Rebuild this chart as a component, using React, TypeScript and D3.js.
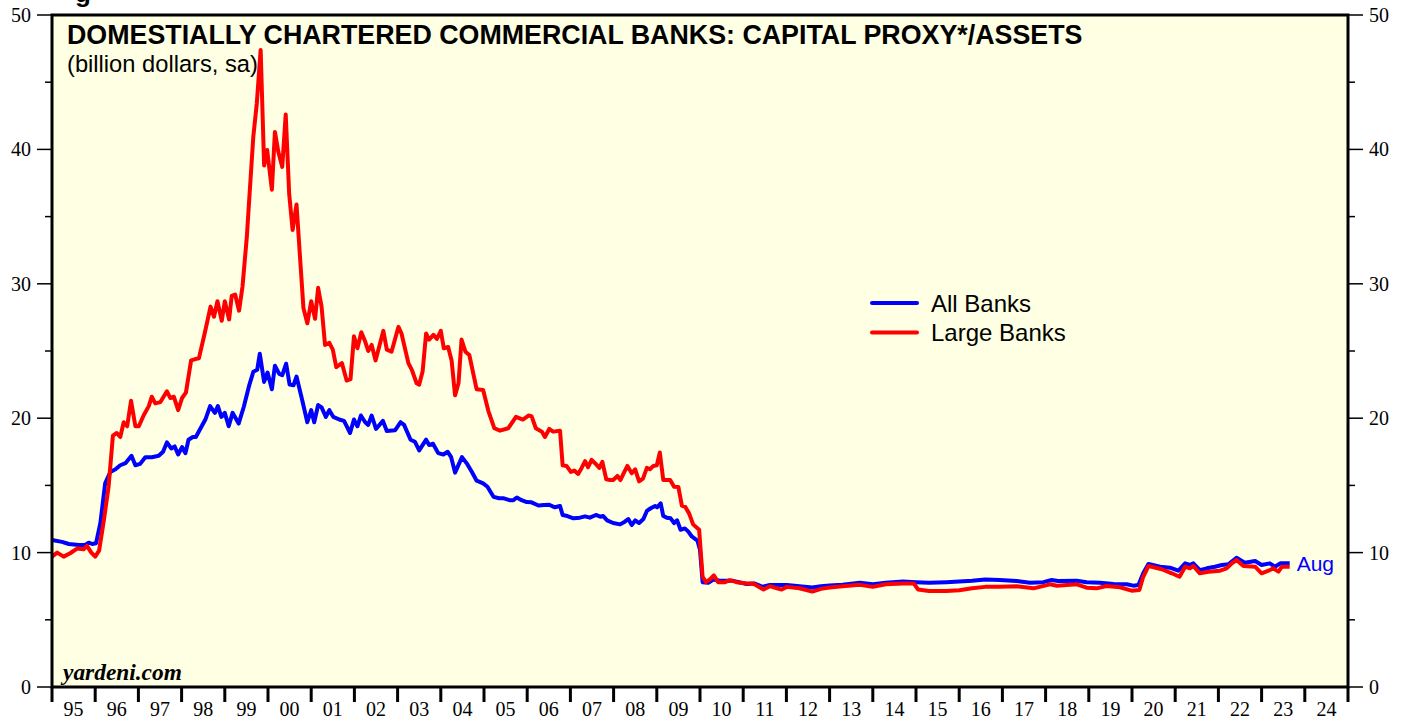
import React from "react";
import * as d3 from "d3";

// ---- Data (decimal year, value) ----
const allBanksDates = [
  1995.0, 1995.23, 1995.39, 1995.62, 1995.77, 1995.85, 1995.93, 1996.02, 1996.12, 1996.23, 1996.35, 1996.47,
  1996.58, 1996.7, 1996.84, 1996.93, 1997.04, 1997.16, 1997.31, 1997.47, 1997.57, 1997.66, 1997.76, 1997.84,
  1997.92, 1998.01, 1998.09, 1998.16, 1998.26, 1998.33, 1998.43, 1998.55, 1998.66, 1998.77, 1998.84, 1998.92,
  1999.0, 1999.09, 1999.18, 1999.32, 1999.44, 1999.57, 1999.66, 1999.75, 1999.81, 1999.91, 1999.99, 2000.09,
  2000.16, 2000.26, 2000.33, 2000.42, 2000.5, 2000.59, 2000.66, 2000.78, 2000.91, 2001.0, 2001.07, 2001.16,
  2001.24, 2001.34, 2001.42, 2001.51, 2001.65, 2001.76, 2001.9, 2001.99, 2002.07, 2002.15, 2002.25, 2002.32,
  2002.4, 2002.5, 2002.66, 2002.75, 2002.94, 2003.07, 2003.15, 2003.3, 2003.4, 2003.5, 2003.66, 2003.73,
  2003.82, 2003.94, 2004.06, 2004.16, 2004.24, 2004.33, 2004.49, 2004.61, 2004.72, 2004.83, 2004.98, 2005.08,
  2005.22, 2005.35, 2005.46, 2005.59, 2005.68, 2005.76, 2005.87, 2005.99, 2006.1, 2006.26, 2006.39, 2006.51,
  2006.64, 2006.76, 2006.82, 2006.93, 2007.07, 2007.22, 2007.34, 2007.45, 2007.59, 2007.69, 2007.76, 2007.85,
  2007.99, 2008.15, 2008.26, 2008.34, 2008.42, 2008.5, 2008.59, 2008.69, 2008.77, 2008.86, 2008.96, 2009.01,
  2009.09, 2009.15, 2009.23, 2009.32, 2009.4, 2009.47, 2009.55, 2009.65, 2009.73, 2009.81, 2009.94, 2010.0,
  2010.06, 2010.19, 2010.31, 2010.46, 2010.77, 2011.08, 2011.27, 2011.45, 2011.62, 2012.01, 2012.3, 2012.6,
  2012.8, 2013.0, 2013.3, 2013.7, 2014.0, 2014.3, 2014.7, 2015.0, 2015.3, 2015.7, 2016.0, 2016.3,
  2016.6, 2016.94, 2017.33, 2017.64, 2017.95, 2018.14, 2018.29, 2018.72, 2018.95, 2019.26, 2019.57, 2019.88,
  2020.03, 2020.15, 2020.26, 2020.38, 2020.65, 2020.88, 2021.07, 2021.23, 2021.34, 2021.42, 2021.57, 2021.73,
  2021.92, 2022.08, 2022.23, 2022.42, 2022.61, 2022.85, 2023.0, 2023.19, 2023.31, 2023.43, 2023.65,
];
const allBanksValues = [
  10.94, 10.8, 10.64, 10.57, 10.57, 10.74, 10.64, 10.7, 12.2, 15.15, 16.0, 16.2,
  16.5, 16.65, 17.2, 16.5, 16.6, 17.1, 17.1, 17.2, 17.5, 18.2, 17.75, 17.9,
  17.3, 17.85, 17.4, 18.4, 18.6, 18.6, 19.2, 19.9, 20.9, 20.4, 20.9, 20.1,
  20.4, 19.4, 20.4, 19.6, 20.85, 22.5, 23.45, 23.6, 24.8, 22.7, 23.4, 22.15,
  23.9, 23.3, 23.2, 24.05, 22.5, 22.45, 23.1, 21.5, 19.7, 20.6, 19.7, 20.98,
  20.8, 20.1, 20.6, 20.1, 19.9, 19.8, 18.9, 19.9, 19.4, 20.2, 19.7, 19.5,
  20.2, 19.2, 19.8, 19.05, 19.1, 19.7, 19.5, 18.4, 18.25, 17.6, 18.4, 18.0,
  18.1, 17.4, 17.3, 17.5, 17.1, 15.95, 17.1, 16.6, 16.0, 15.35, 15.15, 14.9,
  14.15, 14.04, 14.04, 13.9, 13.9, 14.1, 13.9, 13.76, 13.74, 13.5, 13.54, 13.56,
  13.37, 13.47, 12.8, 12.72, 12.55, 12.6, 12.7, 12.6, 12.8, 12.67, 12.72, 12.4,
  12.2, 12.1, 12.3, 12.5, 12.05, 12.4, 12.2, 12.5, 13.1, 13.3, 13.47, 13.37,
  13.67, 12.72, 12.6, 12.55, 12.2, 12.4, 11.7, 11.8, 11.56, 11.2, 10.9, 10.2,
  7.8, 7.75, 8.0, 7.9, 7.9, 7.66, 7.7, 7.46, 7.59, 7.59, 7.5, 7.4,
  7.5, 7.55, 7.6, 7.75, 7.65, 7.75, 7.85, 7.8, 7.75, 7.8, 7.85, 7.9,
  8.0, 7.96, 7.89, 7.76, 7.8, 7.96, 7.89, 7.91, 7.79, 7.76, 7.66, 7.64,
  7.54, 7.59, 8.46, 9.15, 8.95, 8.88, 8.65, 9.2, 9.08, 9.2, 8.7, 8.83,
  8.95, 9.08, 9.13, 9.62, 9.25, 9.38, 9.08, 9.2, 8.95, 9.2, 9.2,
];

const largeBanksDates = [
  1995.0, 1995.12, 1995.27, 1995.42, 1995.58, 1995.73, 1995.81, 1995.91, 1996.0, 1996.09, 1996.2, 1996.31,
  1996.41, 1996.5, 1996.58, 1996.66, 1996.74, 1996.83, 1996.93, 1997.01, 1997.12, 1997.24, 1997.31, 1997.39,
  1997.51, 1997.66, 1997.74, 1997.82, 1997.92, 1998.01, 1998.1, 1998.22, 1998.32, 1998.4, 1998.54, 1998.67,
  1998.75, 1998.83, 1998.93, 1999.0, 1999.1, 1999.16, 1999.24, 1999.33, 1999.41, 1999.51, 1999.57, 1999.66,
  1999.74, 1999.83, 1999.91, 1999.98, 2000.09, 2000.16, 2000.24, 2000.33, 2000.41, 2000.49, 2000.57, 2000.66,
  2000.82, 2000.91, 2001.0, 2001.09, 2001.16, 2001.24, 2001.32, 2001.42, 2001.5, 2001.58, 2001.71, 2001.82,
  2001.91, 2001.99, 2002.07, 2002.16, 2002.25, 2002.32, 2002.4, 2002.49, 2002.67, 2002.75, 2002.86, 2003.02,
  2003.09, 2003.25, 2003.33, 2003.44, 2003.5, 2003.58, 2003.66, 2003.73, 2003.83, 2003.91, 2004.0, 2004.07,
  2004.17, 2004.25, 2004.33, 2004.41, 2004.48, 2004.57, 2004.66, 2004.83, 2004.98, 2005.1, 2005.24, 2005.37,
  2005.56, 2005.74, 2005.9, 2006.03, 2006.1, 2006.2, 2006.34, 2006.41, 2006.51, 2006.6, 2006.76, 2006.82,
  2006.91, 2007.01, 2007.09, 2007.18, 2007.26, 2007.34, 2007.41, 2007.49, 2007.57, 2007.67, 2007.74, 2007.83,
  2007.92, 2007.99, 2008.09, 2008.16, 2008.24, 2008.32, 2008.42, 2008.5, 2008.59, 2008.68, 2008.77, 2008.84,
  2008.92, 2009.0, 2009.07, 2009.15, 2009.31, 2009.4, 2009.5, 2009.58, 2009.66, 2009.75, 2009.84, 2009.98,
  2010.06, 2010.14, 2010.23, 2010.32, 2010.42, 2010.58, 2010.69, 2010.85, 2011.08, 2011.23, 2011.47, 2011.62,
  2011.78, 2011.89, 2012.01, 2012.3, 2012.6, 2012.8, 2013.0, 2013.3, 2013.7, 2014.0, 2014.3, 2014.7,
  2014.95, 2015.05, 2015.3, 2015.7, 2016.0, 2016.3, 2016.6, 2016.94, 2017.33, 2017.72, 2018.1, 2018.26,
  2018.72, 2018.95, 2019.18, 2019.41, 2019.72, 2019.99, 2020.17, 2020.26, 2020.38, 2020.69, 2020.92, 2021.1,
  2021.23, 2021.34, 2021.42, 2021.57, 2021.77, 2022.04, 2022.19, 2022.31, 2022.42, 2022.58, 2022.85, 2023.0,
  2023.16, 2023.27, 2023.39, 2023.47, 2023.65,
];
const largeBanksValues = [
  9.7, 10.0, 9.7, 9.95, 10.3, 10.25, 10.5, 10.0, 9.7, 10.15, 12.4, 14.9,
  18.7, 18.9, 18.6, 19.7, 19.4, 21.3, 19.4, 19.4, 20.2, 20.9, 21.6, 21.1,
  21.2, 22.0, 21.5, 21.6, 20.6, 21.5, 21.9, 24.3, 24.4, 24.45, 26.4, 28.3,
  27.55, 28.7, 27.25, 28.7, 27.35, 29.1, 29.2, 28.0, 29.8, 33.5, 36.5, 40.95,
  43.4, 47.4, 38.8, 39.96, 37.0, 41.3, 39.8, 38.7, 42.6, 36.7, 34.0, 35.9,
  28.2, 27.06, 28.7, 27.4, 29.7, 28.3, 25.45, 25.6, 25.1, 23.8, 24.1, 22.8,
  22.9, 26.1, 25.2, 26.4, 25.7, 25.0, 25.45, 24.3, 26.5, 25.1, 24.95, 26.8,
  26.3, 24.1, 23.6, 22.6, 22.5, 23.5, 26.3, 25.85, 26.2, 25.9, 26.5, 25.2,
  25.3, 24.3, 21.7, 22.6, 25.85, 24.95, 24.7, 22.15, 22.1, 20.55, 19.25, 19.07,
  19.25, 20.1, 19.9, 20.2, 20.15, 19.25, 19.0, 18.6, 19.2, 19.0, 19.07, 16.5,
  16.45, 16.0, 16.1, 15.85, 16.3, 16.8, 16.35, 16.9, 16.65, 16.3, 16.75, 15.45,
  15.4, 15.4, 15.7, 15.4, 15.95, 16.45, 15.9, 16.2, 15.3, 15.5, 16.3, 16.2,
  16.45, 16.5, 17.45, 15.4, 15.4, 14.9, 14.88, 13.5, 13.4, 12.9, 12.1, 11.7,
  8.2, 7.8, 8.0, 8.3, 7.8, 7.8, 7.95, 7.8, 7.7, 7.7, 7.25, 7.5,
  7.35, 7.25, 7.45, 7.35, 7.1, 7.3, 7.4, 7.5, 7.6, 7.45, 7.65, 7.7,
  7.7, 7.25, 7.15, 7.15, 7.2, 7.35, 7.45, 7.46, 7.5, 7.34, 7.64, 7.54,
  7.64, 7.39, 7.34, 7.51, 7.42, 7.17, 7.22, 8.2, 9.0, 8.76, 8.46, 8.2,
  8.95, 8.83, 9.0, 8.46, 8.58, 8.65, 8.83, 9.2, 9.45, 9.0, 8.95, 8.46,
  8.65, 8.83, 8.58, 8.95, 8.95,
];

const yTicks = [0, 10, 20, 30, 40, 50];
const yMinorTicks = [5, 15, 25, 35, 45];
const yearStart = 1995;
const yearEnd = 2025;
const yearLabels = [
  "95", "96", "97", "98", "99", "00", "01", "02", "03", "04", "05", "06", "07", "08", "09",
  "10", "11", "12", "13", "14", "15", "16", "17", "18", "19", "20", "21", "22", "23", "24",
];
const seriesNames = ["All Banks", "Large Banks"];
const seriesColors = ["#0000ff", "#ff0000"];

const W = 1407;
const H = 719;
const M = { left: 52, right: 1348, top: 15, bottom: 687 };
const SERIF = "'Liberation Serif', 'Times New Roman', serif";
const SANS = "'Liberation Sans', Arial, Helvetica, sans-serif";

export default function App() {
  const x = d3.scaleLinear().domain([yearStart, yearEnd]).range([M.left, M.right]);
  const y = d3.scaleLinear().domain([0, 50]).range([M.bottom, M.top]);
  const line = d3
    .line<[number, number]>()
    .x((d) => x(d[0]))
    .y((d) => y(d[1]))
    .curve(d3.curveLinear);

  const allPts: [number, number][] = allBanksDates.map((d, i) => [d, allBanksValues[i]]);
  const largePts: [number, number][] = largeBanksDates.map((d, i) => [d, largeBanksValues[i]]);
  const years = d3.range(yearStart, yearEnd + 1);
  const lastAll = allPts[allPts.length - 1];

  return (
    <svg
      width={W}
      height={H}
      style={{ position: "absolute", left: 0, top: 0, background: "#ffffff" }}
    >
      <text x={75} y={2} fontFamily={SANS} fontWeight="bold" fontSize={26} fill="#000">
        g
      </text>
      <rect x={M.left} y={M.top} width={M.right - M.left} height={M.bottom - M.top} fill="#ffffe3" />

      {/* y axes */}
      {yTicks.map((t) => (
        <g key={"yl" + t}>
          <line x1={M.left - 15} x2={M.left} y1={y(t)} y2={y(t)} stroke="#000" strokeWidth={1.5} />
          <text x={31} y={y(t) + 7} textAnchor="end" fontFamily={SERIF} fontSize={20} fill="#000">
            {t}
          </text>
          <line x1={M.right} x2={M.right + 15} y1={y(t)} y2={y(t)} stroke="#000" strokeWidth={1.5} />
          <text x={1369} y={y(t) + 7} textAnchor="start" fontFamily={SERIF} fontSize={20} fill="#000">
            {t}
          </text>
        </g>
      ))}
      {yMinorTicks.map((t) => (
        <g key={"ym" + t}>
          <line x1={M.left - 7} x2={M.left} y1={y(t)} y2={y(t)} stroke="#000" strokeWidth={1.5} />
          <line x1={M.right} x2={M.right + 7} y1={y(t)} y2={y(t)} stroke="#000" strokeWidth={1.5} />
        </g>
      ))}

      {/* x axis ticks and labels */}
      {years.map((yr) => (
        <line key={"xt" + yr} x1={x(yr)} x2={x(yr)} y1={M.bottom} y2={M.bottom + 15} stroke="#000" strokeWidth={3} />
      ))}
      {yearLabels.map((lab, i) => (
        <text
          key={"xl" + lab}
          x={x(yearStart + i + 0.5)}
          y={716}
          textAnchor="middle"
          fontFamily={SERIF}
          fontSize={20}
          fill="#000"
        >
          {lab}
        </text>
      ))}

      {/* series */}
      <path d={line(allPts) || ""} fill="none" stroke={seriesColors[0]} strokeWidth={4} strokeLinejoin="round" />
      <path d={line(largePts) || ""} fill="none" stroke={seriesColors[1]} strokeWidth={4} strokeLinejoin="round" />

      {/* frame */}
      <rect
        x={M.left}
        y={M.top}
        width={M.right - M.left}
        height={M.bottom - M.top}
        fill="none"
        stroke="#000"
        strokeWidth={3}
      />

      {/* titles */}
      <text x={67} y={44} fontFamily={SANS} fontWeight="bold" fontSize={26.8} fill="#000">
        DOMESTIALLY CHARTERED COMMERCIAL BANKS: CAPITAL PROXY*/ASSETS
      </text>
      <text x={67} y={72} fontFamily={SANS} fontSize={23.7} fill="#000">
        (billion dollars, sa)
      </text>

      {/* legend */}
      {seriesNames.map((n, i) => (
        <g key={n}>
          <line
            x1={872}
            x2={917}
            y1={303 + i * 29.5}
            y2={303 + i * 29.5}
            stroke={seriesColors[i]}
            strokeWidth={4}
            strokeLinecap="round"
          />
          <text x={931} y={311.5 + i * 29.5} fontFamily={SANS} fontSize={24} fill="#000">
            {n}
          </text>
        </g>
      ))}

      <text x={x(lastAll[0]) + 7} y={571} fontFamily={SANS} fontSize={21} fill="#0000ff">
        Aug
      </text>

      <text x={63} y={680} fontFamily={SERIF} fontWeight="bold" fontStyle="italic" fontSize={23.4} fill="#000">
        yardeni.com
      </text>
    </svg>
  );
}
